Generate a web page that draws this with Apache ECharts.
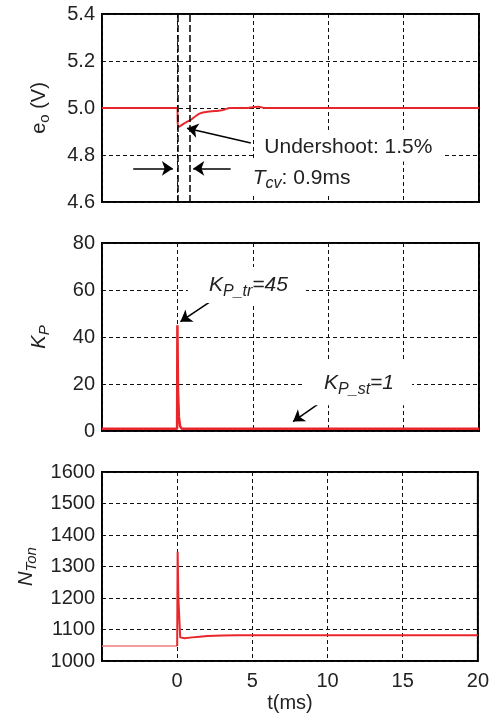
<!DOCTYPE html>
<html>
<head>
<meta charset="utf-8">
<script src="https://cdn.jsdelivr.net/npm/echarts@6/dist/echarts.min.js"></script>
<style>
html,body{margin:0;padding:0;background:#fff;}
#c{width:492px;height:715px;}
</style>
</head>
<body>
<div id="c"></div>
<script>
// ---- data ----
var tE = [-5, 0, 0.03, 0.15, 0.35, 0.6, 0.9, 1.2, 1.5, 2.0, 2.5, 3.0, 3.5, 4.5, 5.1, 5.4, 5.8, 6.5, 20];
var eO = [5.0, 5.0, 4.92, 4.922, 4.93, 4.94, 4.95, 4.965, 4.977, 4.984, 4.987, 4.991, 5.0, 5.0, 5.004, 5.005, 5.0, 5.0, 5.0];

var tK = [-5, -0.02, 0, 0.04, 0.1, 0.18, 0.28, 20];
var kP = [1, 1, 45, 17, 6, 2, 1, 1];

var tNpre = [-5, 0];
var nPre = [1048, 1048];
var tN = [0, 0.03, 0.08, 0.2, 0.3, 0.5, 1.0, 1.5, 2.0, 3.0, 4.0, 5.0, 20];
var nTon = [1048, 1347, 1200, 1075, 1069, 1072, 1075, 1077, 1079, 1081, 1082, 1082, 1082];

var xTicks = [0, 5, 10, 15, 20];
var tMarkers = [0, 0.8];

function pairs(xs, ys) { return xs.map(function (x, i) { return [x, ys[i]]; }); }

var FONT = 'Liberation Sans, Arial, sans-serif';
var TXT = '#222';
var RED = '#e8262b';
var gridLine = { show: true, lineStyle: { color: '#111', width: 1, type: [4, 3] } };
var richStyles = {
  it: { fontStyle: 'italic', fontSize: 20, fontFamily: FONT, color: TXT },
  n: { fontSize: 20, fontFamily: FONT, color: TXT },
  sub: { fontStyle: 'italic', fontSize: 15, fontFamily: FONT, color: TXT, padding: [11, 0, 0, 0] },
  subn: { fontSize: 15, fontFamily: FONT, color: TXT, padding: [11, 0, 0, 0] }
};
var noteStyles = {
  it: { fontStyle: 'italic', fontSize: 21, fontFamily: FONT, color: TXT },
  n: { fontSize: 21, fontFamily: FONT, color: TXT },
  sub: { fontStyle: 'italic', fontSize: 16, fontFamily: FONT, color: TXT, padding: [12, 0, 0, 0] }
};

function xAxisCfg(idx, showLabels) {
  return {
    type: 'value', gridIndex: idx, min: -5, max: 20, interval: 5,
    axisLine: { show: false }, axisTick: { show: false },
    splitLine: gridLine,
    axisLabel: {
      show: showLabels, fontSize: 20, fontFamily: FONT, color: TXT, margin: 10,
      formatter: function (v) { return xTicks.indexOf(v) >= 0 ? String(v) : ''; }
    },
    name: showLabels ? 't(ms)' : '', nameLocation: 'middle', nameGap: 32,
    nameTextStyle: { fontSize: 20, fontFamily: FONT, color: TXT }
  };
}
function yAxisCfg(idx, min, max, interval, name, dec) {
  return {
    type: 'value', gridIndex: idx, min: min, max: max, interval: interval,
    axisLine: { show: false }, axisTick: { show: false },
    splitLine: gridLine,
    axisLabel: {
      fontSize: 20, fontFamily: FONT, color: TXT, margin: 7,
      formatter: function (v) { return v.toFixed(dec); }
    },
    name: name, nameLocation: 'middle', nameGap: 50, nameRotate: 90,
    nameTextStyle: { fontSize: 20, fontFamily: FONT, color: TXT, rich: richStyles }
  };
}
function noteLabel(coord, text, pad) {
  return {
    coord: coord, symbol: 'rect', symbolSize: 0,
    label: {
      show: true, position: 'right', distance: 0,
      formatter: text, backgroundColor: '#fff', padding: pad,
      rich: noteStyles
    }
  };
}
function arrow(from, to) {
  return [{ coord: from, symbol: 'none' }, { coord: to, symbol: 'arrow' }];
}
function vmark(t, lo, hi) {
  var ls = { type: [7, 3], width: 1.5, color: '#000' };
  return [{ coord: [t, lo], symbol: 'none', lineStyle: ls }, { coord: [t, hi], symbol: 'none', lineStyle: ls }];
}

var chart = echarts.init(document.getElementById('c'), null, { renderer: 'canvas' });
var gridBase = { left: 102, right: 13, height: 188, show: true, borderColor: '#000', borderWidth: 2, backgroundColor: 'transparent' };

chart.setOption({
  animation: false,
  backgroundColor: '#fff',
  grid: [
    Object.assign({}, gridBase, { top: 14 }),
    Object.assign({}, gridBase, { top: 243 }),
    Object.assign({}, gridBase, { top: 472, height: 189 })
  ],
  xAxis: [xAxisCfg(0, false), xAxisCfg(1, false), xAxisCfg(2, true)],
  yAxis: [
    yAxisCfg(0, 4.6, 5.4, 0.2, '{n|e}{subn|o}{n| (V)}', 1),
    yAxisCfg(1, 0, 80, 20, '{it|K}{sub|P}', 0),
    yAxisCfg(2, 1000, 1600, 100, '{it|N}{sub|Ton}', 0)
  ],
  series: [
    {
      type: 'line', xAxisIndex: 0, yAxisIndex: 0, data: pairs(tE, eO),
      showSymbol: false, symbol: 'none', smooth: 0.3,
      lineStyle: { color: RED, width: 2 }, z: 3,
      markLine: {
        silent: true, animation: false, symbol: ['none', 'arrow'], symbolSize: 11,
        label: { show: false },
        lineStyle: { color: '#000', width: 1.5, type: 'solid' },
        data: [
          vmark(tMarkers[0], 4.6, 5.4),
          vmark(tMarkers[1], 4.6, 5.4),
          arrow([4.87, 4.851], [0.64, 4.914]),
          arrow([-2.93, 4.743], [-0.3, 4.743]),
          arrow([3.53, 4.743], [1.05, 4.743])
        ]
      },
      markPoint: {
        silent: true, animation: false,
        data: [
          noteLabel([5.1, 4.838], '{n|Undershoot: 1.5%}', [6, 10, 4, 10]),
          noteLabel([4.4, 4.703], '{it|T}{sub|cv}{n|: 0.9ms}', [4, 20, 4, 9])
        ]
      }
    },
    {
      type: 'line', xAxisIndex: 1, yAxisIndex: 1, data: pairs(tK, kP),
      showSymbol: false, symbol: 'none',
      lineStyle: { color: RED, width: 2.5 }, z: 3,
      markLine: {
        silent: true, animation: false, symbol: ['none', 'arrow'], symbolSize: 11,
        label: { show: false },
        lineStyle: { color: '#000', width: 1.5, type: 'solid' },
        data: [
          arrow([2.33, 55.7], [0.2, 46.5]),
          arrow([9.73, 13.2], [7.67, 4.0])
        ]
      },
      markPoint: {
        silent: true, animation: false,
        data: [
          noteLabel([0.7, 62.1], '{it|K}{sub|P_tr}{it|=45}', [4, 18, 4, 21]),
          noteLabel([8.4, 20.3], '{it|K}{sub|P_st}{it|=1}', [8, 18, 8, 20])
        ]
      }
    },
    {
      type: 'line', xAxisIndex: 2, yAxisIndex: 2, data: pairs(tNpre, nPre),
      showSymbol: false, symbol: 'none',
      lineStyle: { color: '#f07a7a', width: 1.5 }, z: 3
    },
    {
      type: 'line', xAxisIndex: 2, yAxisIndex: 2, data: pairs(tN, nTon),
      showSymbol: false, symbol: 'none',
      lineStyle: { color: RED, width: 2 }, z: 3
    }
  ]
});
</script>
</body>
</html>
